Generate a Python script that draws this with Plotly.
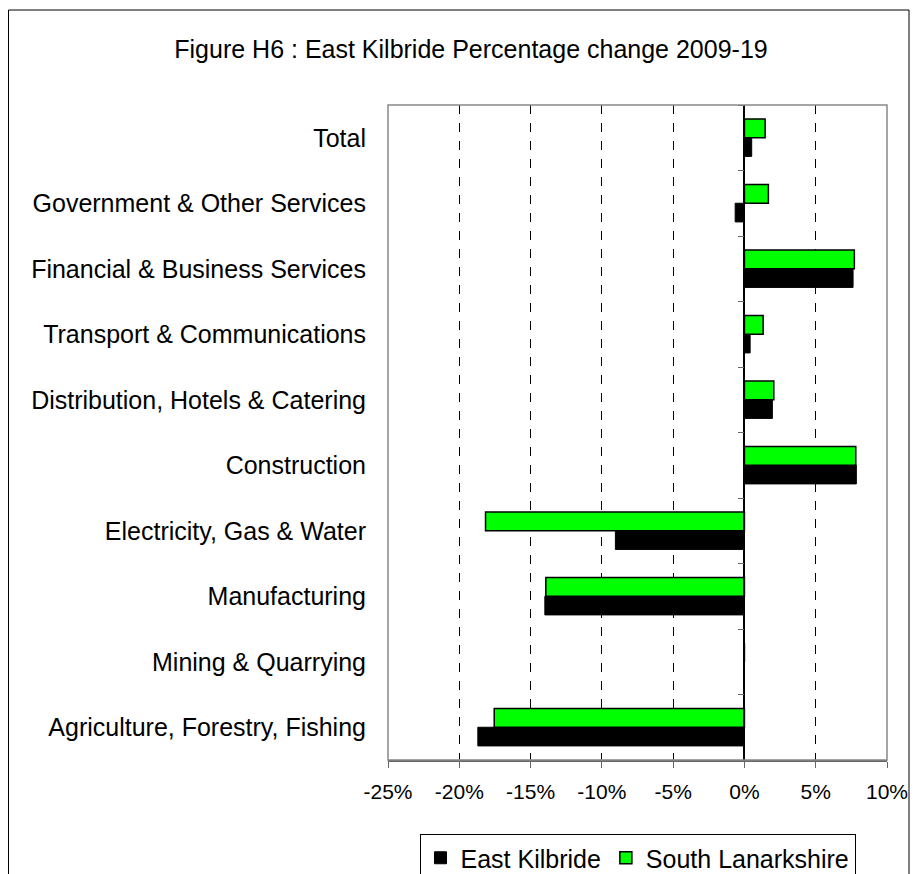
import plotly.graph_objects as go

# categories listed bottom-to-top
sectores = ["Agriculture, Forestry, Fishing", "Mining & Quarrying", "Manufacturing",
            "Electricity, Gas & Water", "Construction", "Distribution, Hotels & Catering",
            "Transport & Communications", "Financial & Business Services",
            "Government & Other Services", "Total"]
east_kilbride = [-18.7, 0.0, -14.0, -9.05, 7.85, 1.96, 0.4, 7.62, -0.65, 0.51]
south_lanarkshire = [-17.55, 0.0, -13.93, -18.16, 7.81, 2.06, 1.31, 7.71, 1.68, 1.45]
x_ticks = [-25, -20, -15, -10, -5, 0, 5, 10]
x_ticklabels = ["-25%", "-20%", "-15%", "-10%", "-5%", "0%", "5%", "10%"]

fuente = "Liberation Sans, Arial, sans-serif"

fig = go.Figure()
fig.add_trace(go.Bar(y=sectores, x=east_kilbride, orientation="h", name="East Kilbride",
                     marker=dict(color="#000000", line=dict(color="#000000", width=1))))
fig.add_trace(go.Bar(y=sectores, x=south_lanarkshire, orientation="h", name="South Lanarkshire",
                     marker=dict(color="#00FF00", line=dict(color="#000000", width=1.5))))
# eje de categorias en 0% (solo marcas)
fig.add_trace(go.Scatter(y=sectores, x=[0] * len(sectores), yaxis="y2", mode="markers",
                         marker=dict(opacity=0), showlegend=False, hoverinfo="skip"))

fig.update_layout(
    width=913, height=890,
    paper_bgcolor="white", plot_bgcolor="white",
    font=dict(family=fuente, size=25, color="black"),
    margin=dict(l=380, r=34, t=97, b=138),
    barmode="group", bargap=0.43, bargroupgap=0,
    title=dict(text="Figure H6 : East Kilbride Percentage change 2009-19",
               x=463 / 913, xanchor="center", y=1 - 41 / 890, yanchor="middle",
               yref="container", font=dict(size=25)),
    xaxis=dict(range=[-25, 10], tickvals=x_ticks, ticktext=x_ticklabels,
               showgrid=True, gridcolor="black", griddash="dash", gridwidth=1,
               zeroline=True, zerolinecolor="black", zerolinewidth=1.5,
               showline=True, linecolor="#666666", linewidth=1.5,
               ticks="outside", ticklen=6, tickcolor="#666666",
               tickfont=dict(size=21), ticklabelstandoff=6),
    yaxis=dict(type="category", categoryarray=sectores, range=[-0.5, 9.5],
               showgrid=False, ticks="", showline=False,
               tickfont=dict(size=25), ticklabelstandoff=21),
    yaxis2=dict(type="category", categoryarray=sectores, range=[-0.5, 9.5],
                overlaying="y", anchor="free", position=25 / 35, side="left",
                showgrid=False, showticklabels=False, ticks="outside",
                tickson="boundaries", ticklen=6, tickcolor="#666666",
                showline=True, linecolor="black", linewidth=1.5),
    legend=dict(orientation="h", x=0.5, xanchor="center", y=-0.113, yanchor="top",
                bordercolor="black", borderwidth=1, font=dict(size=25),
                itemwidth=30, tracegroupgap=0),
    showlegend=True,
)

# borde del area de trazado
fig.add_shape(type="rect", xref="paper", yref="paper", x0=0, x1=1, y0=0, y1=1,
              line=dict(color="#888888", width=1.5), layer="above")
# borde exterior del grafico
fig.add_shape(type="rect", xref="paper", yref="paper",
              x0=(0.5 - 380) / 499, x1=(901 - 380) / 499,
              y0=(752 - 900) / 655, y1=(752 - 2) / 655,
              line=dict(color="black", width=1))

fig.write_html("out.html")
